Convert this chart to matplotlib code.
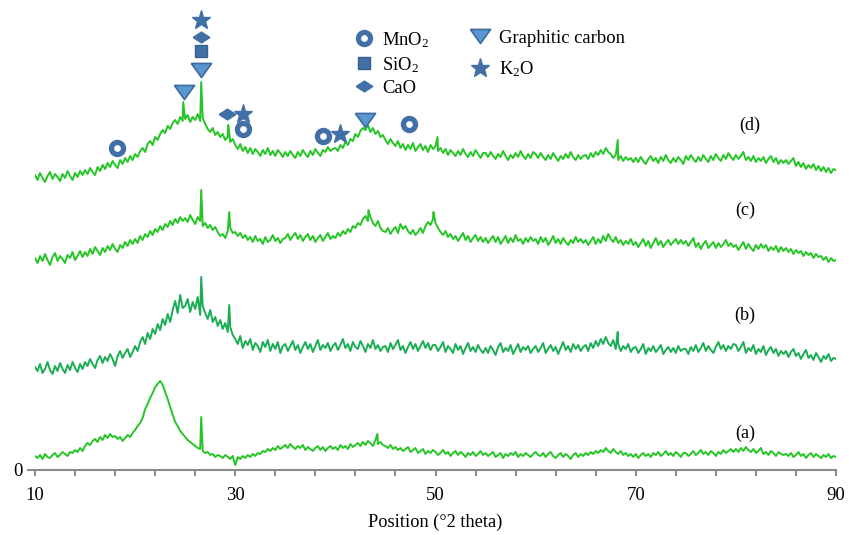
import numpy as np
import matplotlib
matplotlib.use("Agg")
import matplotlib.pyplot as plt
from matplotlib.lines import Line2D

plt.rcParams["font.family"] = ["Liberation Serif", "DejaVu Serif"]
plt.rcParams["mathtext.default"] = "regular"

# 2-theta grid (0.25 deg step) and offset intensities of the four patterns
two_theta = np.arange(10.0, 90.001, 0.25)

curve_a = [
    14, 12, 15, 11, 16, 13, 12, 15, 17, 13, 15, 18, 16, 14, 18, 17, 20, 18, 22, 19,
    24, 27, 25, 29, 31, 28, 33, 30, 35, 32, 36, 33, 34, 31, 33, 29, 32, 35, 33, 37,
    40, 44, 47, 52, 61, 66, 72, 77, 83, 86, 89, 85, 78, 71, 63, 55, 48, 44, 39, 36,
    33, 30, 28, 26, 24, 22, 21, 19, 17, 18, 15, 16, 13, 15, 14, 12, 15, 13, 11, 14,
    5, 13, 11, 14, 12, 15, 13, 16, 14, 17, 16, 19, 18, 21, 19, 22, 20, 24, 21, 23,
    25, 22, 26, 23, 21, 24, 22, 25, 20, 23, 21, 19, 22, 24, 20, 23, 19, 22, 24, 21,
    23, 20, 25, 22, 24, 21, 26, 23, 25, 27, 24, 28, 25, 29, 27, 24, 30, 26, 28, 25,
    24, 22, 25, 21, 23, 20, 22, 19, 21, 23, 18, 20, 22, 17, 19, 21, 16, 19, 17, 20,
    18, 15, 17, 20, 16, 18, 14, 17, 19, 15, 18, 16, 13, 17, 15, 18, 14, 16, 19, 15,
    17, 14, 16, 18, 13, 15, 17, 12, 16, 14, 17, 15, 18, 13, 16, 14, 17, 15, 13, 16,
    18, 15, 14, 17, 13, 16, 18, 14, 12, 15, 17, 13, 16, 14, 11, 15, 17, 13, 16, 14,
    17, 15, 18, 16, 19, 17, 20, 18, 22, 19, 17, 21, 18, 16, 19, 15, 17, 14, 16, 13,
    16, 12, 15, 17, 14, 16, 13, 17, 15, 18, 14, 16, 19, 15, 17, 14, 18, 16, 13, 17,
    17, 14, 16, 19, 15, 17, 20, 16, 18, 15, 19, 17, 14, 18, 16, 20, 17, 19, 21, 18,
    21, 18, 22, 19, 23, 20, 18, 21, 17, 19, 22, 16, 18, 15, 19, 17, 14, 18, 16, 15,
    16, 14, 17, 13, 15, 18, 14, 16, 12, 15, 17, 13, 16, 14, 12, 15, 13, 16, 12, 14,
    13,
]
curve_b = [
    103, 99, 106, 97, 101, 108, 100, 96, 104, 99, 107, 101, 97, 105, 100, 108, 102, 98, 106, 101,
    108, 104, 111, 106, 102, 110, 114, 107, 113, 109, 116, 111, 104, 114, 119, 112, 117, 121, 113, 118,
    124, 119, 128, 133, 126, 137, 131, 141, 136, 146, 140, 151, 145, 156, 148, 160, 169, 157, 175, 162,
    164, 171, 158, 168, 161, 173, 155, 164, 157, 151, 160, 148, 153, 144, 150, 141, 147, 138, 143, 135,
    131, 126, 134, 122, 129, 125, 131, 120, 127, 124, 118, 128, 123, 130, 119, 126, 121, 128, 117, 124,
    126, 119, 124, 129, 120, 125, 117, 123, 128, 121, 126, 118, 124, 130, 120, 125, 122, 127, 119, 124,
    127, 120, 125, 131, 122, 126, 119, 128, 123, 121, 129, 124, 118, 126, 122, 130, 121, 125, 119, 123,
    124, 118, 127, 121, 125, 130, 120, 124, 117, 123, 128, 121, 126, 119, 124, 129, 122, 127, 120, 125,
    125, 119, 123, 128, 118, 124, 121, 117, 126, 120, 124, 116, 122, 127, 119, 123, 118, 125, 120, 117,
    122, 117, 124, 120, 115, 123, 127, 118, 122, 119, 125, 116, 121, 126, 118, 123, 120, 124, 117, 121,
    124, 118, 122, 127, 117, 121, 125, 119, 123, 116, 122, 128, 120, 124, 118, 126, 121, 125, 119, 123,
    125, 119, 127, 122, 129, 124, 131, 126, 133, 127, 124, 130, 121, 126, 119, 124, 121, 126, 118, 122,
    123, 117, 121, 126, 116, 122, 119, 124, 118, 121, 125, 116, 120, 123, 118, 122, 117, 124, 119, 121,
    121, 116, 123, 119, 125, 118, 122, 127, 119, 124, 120, 117, 123, 128, 121, 125, 119, 124, 121, 126,
    125, 119, 123, 128, 117, 122, 119, 125, 116, 121, 118, 124, 115, 120, 123, 117, 121, 114, 119, 116,
    119, 113, 118, 121, 114, 117, 111, 116, 120, 112, 115, 110, 117, 113, 108, 114, 111, 116, 109, 112,
    111,
]
curve_c = [
    212, 207, 214, 209, 216, 210, 205, 213, 217, 209, 214, 211, 207, 215, 212, 218, 210, 214, 219, 213,
    218, 214, 221, 216, 223, 219, 215, 222, 218, 224, 220, 226, 221, 218, 225, 222, 228, 224, 230, 226,
    231, 227, 234, 230, 236, 233, 239, 235, 241, 238, 244, 240, 246, 243, 249, 245, 251, 247, 253, 249,
    252, 248, 255, 250, 246, 253, 249, 244, 247, 242, 245, 240, 243, 238, 234, 236, 232, 239, 242, 237,
    238, 234, 237, 232, 235, 230, 233, 228, 234, 229, 231, 226, 233, 228, 230, 235, 229, 232, 227, 231,
    232, 236, 230, 234, 237, 231, 235, 229, 233, 236, 230, 234, 228, 232, 235, 229, 233, 237, 231, 234,
    232, 237, 234, 239, 236, 241, 238, 244, 242, 247, 245, 251, 254, 249, 253, 247, 244, 249, 242, 239,
    238, 242, 236, 240, 243, 237, 246, 241, 244, 239, 236, 240, 235, 238, 242, 237, 244, 248, 245, 251,
    247, 242, 238, 235, 239, 233, 236, 231, 234, 229, 233, 237, 230, 234, 228, 232, 235, 229, 233, 228,
    232, 227, 231, 234, 228, 233, 226, 230, 234, 227, 232, 228, 235, 229, 231, 226, 232, 228, 233, 229,
    231, 226, 233, 228, 232, 225, 229, 234, 227, 231, 226, 232, 228, 225, 230, 227, 233, 228, 231, 227,
    230, 225, 229, 233, 226, 231, 227, 234, 229, 236, 231, 228, 233, 227, 230, 225, 229, 226, 231, 225,
    228, 223, 227, 231, 224, 229, 222, 227, 232, 225, 229, 223, 227, 230, 225, 228, 231, 226, 230, 226,
    229, 224, 228, 232, 223, 227, 221, 226, 229, 222, 225, 228, 222, 227, 223, 226, 230, 224, 227, 223,
    225, 220, 224, 228, 221, 226, 222, 219, 225, 221, 226, 222, 225, 219, 223, 220, 224, 218, 223, 219,
    222, 218, 221, 216, 220, 217, 219, 214, 218, 215, 217, 212, 216, 213, 214, 210, 213, 208, 212, 209,
    210,
]
curve_d = [
    295, 290, 297, 292, 288, 294, 298, 291, 296, 293, 289, 296, 292, 299, 294, 290, 297, 293, 299, 295,
    300, 296, 302, 298, 295, 303, 299, 305, 301, 307, 303, 309, 305, 302, 310, 306, 312, 308, 314, 310,
    316, 313, 319, 322, 318, 326, 329, 325, 333, 330, 336, 340, 337, 344, 341, 347, 350, 346, 353, 349,
    351, 355, 348, 353, 350, 356, 349, 352, 346, 341, 338, 342, 335, 338, 333, 336, 330, 333, 328, 331,
    325, 321, 326, 319, 323, 317, 322, 316, 321, 318, 314, 320, 316, 322, 315, 319, 314, 320, 317, 313,
    318, 314, 319, 315, 312, 318, 314, 320, 316, 313, 319, 315, 321, 317, 314, 320, 318, 323, 319, 321,
    322, 319, 325, 322, 328, 325, 331, 329, 336, 333, 339, 342, 340, 345, 338, 342, 336, 339, 333, 335,
    330, 326, 331, 327, 324, 329, 322, 326, 320, 325, 321, 327, 319, 323, 326, 320, 324, 318, 325, 321,
    324, 319, 322, 317, 321, 315, 320, 317, 314, 319, 315, 321, 316, 313, 318, 314, 320, 316, 312, 317,
    317, 313, 318, 314, 311, 316, 313, 319, 314, 310, 315, 312, 317, 313, 319, 314, 311, 316, 312, 318,
    316, 312, 317, 313, 310, 315, 311, 317, 313, 309, 314, 311, 316, 312, 318, 313, 310, 315, 311, 314,
    315, 311, 317, 313, 318, 315, 320, 316, 322, 318, 316, 312, 315, 310, 314, 309, 313, 310, 312, 308,
    312, 308, 313, 309, 306, 311, 314, 309, 312, 307, 313, 309, 315, 310, 307, 312, 308, 313, 310, 306,
    314, 310, 315, 311, 308, 313, 309, 315, 311, 308, 314, 310, 316, 312, 309, 315, 311, 317, 313, 310,
    315, 311, 314, 318, 310, 313, 309, 314, 308, 312, 309, 313, 307, 311, 314, 308, 312, 306, 310, 307,
    310, 306, 309, 312, 304, 308, 303, 307, 301, 305, 302, 306, 300, 304, 299, 303, 298, 302, 297, 301,
    300,
]

# sharp reflections (position, intensity) sitting on each pattern
spikes_a = ([26.6, 44.2], [53, 36])
spikes_b = ([26.6, 29.4, 68.2], [193, 165, 138])
spikes_c = ([26.6, 29.4, 43.3, 49.8], [280, 258, 260, 258])
spikes_d = ([24.8, 26.6, 29.3, 50.2, 68.2], [368, 388, 345, 333, 330])

# phase markers above pattern (d)
mno2_x, mno2_y = [18.2, 30.8, 38.8, 47.4], [322, 341, 334, 346]
sio2_x, sio2_y = [26.6], [419]
cao_x, cao_y = [26.6, 29.2], [433, 356]
carbon_x, carbon_y = [26.6, 24.9, 43.0], [400, 378, 350]
k2o_x, k2o_y = [26.6, 30.8, 40.5], [450, 356, 336]

labels = ["(a)", "(b)", "(c)", "(d)"]
label_x = [80.9, 80.9, 80.9, 81.4]
label_y = [37, 155, 260, 345]

green = "#26c526"
teal_green = "#1bad55"
blue = "#4270a6"
tri_fill = "#5a97d2"
tri_edge = "#3d6a9c"
diamond = [(-1, 0), (0, 0.65), (1, 0), (0, -0.65), (-1, 0)]
tri = [(-1, 0.7), (1, 0.7), (0, -0.7), (-1, 0.7)]


def merge(y, spikes):
    x = np.concatenate([two_theta, spikes[0]])
    yy = np.concatenate([np.array(y, float), spikes[1]])
    order = np.argsort(x, kind="stable")
    return x[order], yy[order]


fig = plt.figure(figsize=(8.49, 5.35), dpi=100)
ax = fig.add_axes([35 / 849, 65 / 535, 801 / 849, 470 / 535])

for y, sp, col in [(curve_a, spikes_a, green), (curve_b, spikes_b, teal_green),
                   (curve_c, spikes_c, green), (curve_d, spikes_d, green)]:
    xs, ys = merge(y, sp)
    ax.plot(xs, ys, color=col, lw=1.4)

for t, lx, ly in zip(labels, label_x, label_y):
    ax.text(lx, ly, t, fontsize=13, ha="center", va="center")

ax.plot(mno2_x, mno2_y, ls="none", marker="o", ms=11.5, mfc=blue, mec=blue, zorder=5)
ax.plot(mno2_x, mno2_y, ls="none", marker="o", ms=3.8, mfc="white", mec="white", zorder=6)
ax.plot(sio2_x, sio2_y, ls="none", marker="s", ms=9, mfc=blue, mec="#35618f", zorder=5)
ax.plot(cao_x, cao_y, ls="none", marker=diamond, ms=12, mfc=blue, mec=blue, zorder=5)
ax.plot(carbon_x, carbon_y, ls="none", marker=tri, ms=14.5, mfc=tri_fill, mec=tri_edge,
        mew=1.2, zorder=5)
ax.plot(k2o_x, k2o_y, ls="none", marker="*", ms=14, mfc=blue, mec=blue, zorder=5)

# legend: two independent columns
ring = (Line2D([], [], ls="none", marker="o", ms=11.5, mfc=blue, mec=blue),
        Line2D([], [], ls="none", marker="o", ms=3.8, mfc="white", mec="white"))
handles1 = [
    ring,
    Line2D([], [], ls="none", marker="s", ms=9, mfc=blue, mec="#35618f"),
    Line2D([], [], ls="none", marker=diamond, ms=12, mfc=blue, mec=blue),
]
handles2 = [
    Line2D([], [], ls="none", marker=tri, ms=14.5, mfc=tri_fill, mec=tri_edge, mew=1.2),
    Line2D([], [], ls="none", marker="*", ms=14, mfc=blue, mec=blue),
]
names1 = ["MnO$_2$", "SiO$_2$", "CaO"]
names2 = ["Graphitic carbon", "K$_2$O"]
leg_kw = dict(frameon=False, fontsize=13.4, loc="upper left",
              handlelength=1.0, handletextpad=0.5)
leg1 = ax.legend(handles1, names1, bbox_to_anchor=(0.378, 0.972),
                 labelspacing=0.28, **leg_kw)
ax.add_artist(leg1)
ax.legend(handles2, names2, bbox_to_anchor=(0.523, 0.972),
          labelspacing=0.68, **leg_kw)

ax.set_xlim(10, 90)
ax.set_ylim(0, 470)
for s in ["top", "right", "left"]:
    ax.spines[s].set_visible(False)
ax.spines["bottom"].set_color("#8c8c8c")
ax.spines["bottom"].set_linewidth(1.5)

ax.set_xticks(np.arange(10, 91, 4))
ax.set_xticklabels([str(v) if v in (10, 30, 50, 70, 90) else "" for v in range(10, 91, 4)])
ax.tick_params(axis="x", direction="out", length=4, width=1.5, color="#8c8c8c",
               labelsize=13.5, pad=8)
ax.set_yticks([0])
ax.set_yticklabels(["0"])
ax.tick_params(axis="y", direction="out", length=6, width=1.5, color="#8c8c8c",
               labelsize=13.5, pad=3)

ax.set_xlabel("Position (°2 theta)", fontsize=13.2)
ax.xaxis.set_label_coords(0.5, -0.094)

fig.savefig("out.png", dpi=100)
